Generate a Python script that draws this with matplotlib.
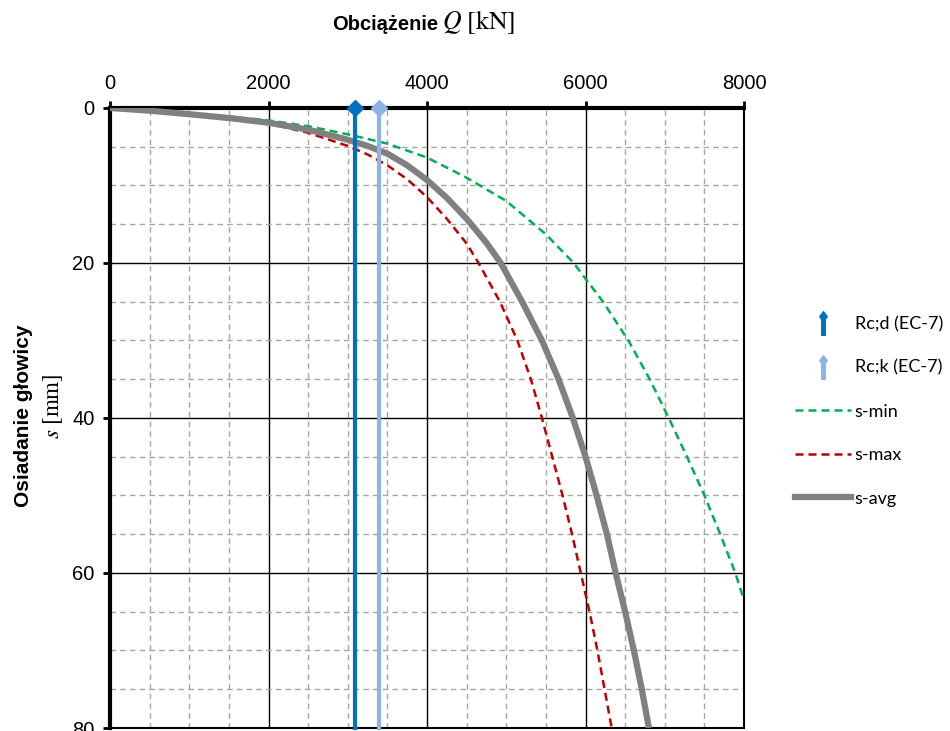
import matplotlib
matplotlib.use("Agg")
import matplotlib.pyplot as plt
from matplotlib.path import Path
from matplotlib.lines import Line2D
from matplotlib.ticker import MultipleLocator

plt.rcParams['font.family'] = ['Liberation Sans', 'DejaVu Sans']
plt.rcParams['mathtext.fontset'] = 'stix'

# obciazenie Q [kN] -> osiadanie s [mm]
q_min = [0, 500, 1000, 1500, 2000, 2500, 3000, 3500, 4000, 4500, 5000, 5500, 5850,
         6220, 6540, 6810, 7050, 7280, 7500, 7700, 7890, 8000]
s_min = [0, 0.3, 0.7, 1.1, 1.6, 2.35, 3.4, 4.6, 6.4, 9.0, 12.0, 16.3, 20,
         25, 30, 35, 40, 45, 50, 55, 60, 63.5]

q_max = [0, 500, 1000, 1500, 2000, 2500, 3000, 3250, 3500, 3750, 4000, 4250, 4500, 4650,
         4920, 5140, 5310, 5450, 5580, 5710, 5830, 5940, 6050, 6150, 6240, 6330]
s_max = [0, 0.3, 0.7, 1.2, 2.0, 3.2, 4.9, 6.0, 7.4, 9.2, 11.5, 14.3, 17.5, 20,
         25, 30, 35, 40, 45, 50, 55, 60, 65, 70, 75, 80]

q_avg = [0, 500, 1000, 1500, 2000, 2500, 3000, 3250, 3500, 3750, 4000, 4250, 4500, 4750,
         4930, 5200, 5450, 5660, 5840, 6000, 6140, 6270, 6380, 6500, 6610, 6710, 6800]
s_avg = [0, 0.35, 0.8, 1.3, 1.9, 2.8, 4.1, 4.9, 5.9, 7.4, 9.3, 11.6, 14.3, 17.4,
         20, 25, 30, 35, 40, 45, 50, 55, 60, 65, 70, 75, 80]

rc_d = 3085
rc_k = 3400
s_range = [0, 80]

fig = plt.figure(figsize=(9.5, 7.31), dpi=100)
ax = fig.add_axes([0.1158, 0.0041, 0.6674, 0.8482])

ax.plot(q_min, s_min, color='#00b050', lw=1.8, ls=(0, (3.2, 2)), zorder=3)
ax.plot(q_max, s_max, color='#c00000', lw=1.8, ls=(0, (3.2, 2)), zorder=3)
ax.plot(q_avg, s_avg, color='#808080', lw=4.5, zorder=4, solid_capstyle='butt',
        solid_joinstyle='round')
ax.plot([rc_d, rc_d], s_range, color='#0070c0', lw=3, marker='D', ms=8,
        markevery=[0], clip_on=False, zorder=6)
ax.plot([rc_k, rc_k], s_range, color='#8db4e2', lw=3, marker='D', ms=8,
        markevery=[0], clip_on=False, zorder=6)

ax.set_xlim(0, 8000)
ax.set_ylim(80, 0)
ax.xaxis.tick_top()
ax.xaxis.set_major_locator(MultipleLocator(2000))
ax.xaxis.set_minor_locator(MultipleLocator(500))
ax.yaxis.set_major_locator(MultipleLocator(20))
ax.yaxis.set_minor_locator(MultipleLocator(5))
ax.grid(which='major', color='black', lw=1.0)
ax.grid(which='minor', color='#a6a6a6', lw=1.0, ls=(0, (4, 3)))
ax.set_axisbelow(True)
ax.tick_params(which='minor', length=0)
ax.tick_params(which='major', length=5, width=2, direction='out', labelsize=14.5, pad=6)

ax.spines['top'].set_linewidth(3)
ax.spines['left'].set_linewidth(3)
ax.spines['right'].set_linewidth(1.5)
ax.spines['bottom'].set_linewidth(1.5)

fig.text(438 / 950, 1 - 24 / 731, "Obciążenie", ha='right', va='center',
         weight='bold', size=14.5)
fig.text(442 / 950, 1 - 22 / 731, r"$Q\ [\mathrm{kN}]$", ha='left', va='center', size=18.5)
fig.text(24 / 950, 1 - 416 / 731, "Osiadanie głowicy", rotation=90, ha='center',
         va='center', weight='bold', size=15)
fig.text(53 / 950, 1 - 406 / 731, r"$s\ [\mathrm{mm}]$", rotation=90, ha='center',
         va='center', size=16.5)

# strzalka do legendy: trzonek + romb
arrow = Path([(-0.15, -1), (-0.15, 0.35), (-0.32, 0.58), (0, 1), (0.32, 0.58),
              (0.15, 0.35), (0.15, -1), (-0.15, -1)],
             [Path.MOVETO] + [Path.LINETO] * 6 + [Path.CLOSEPOLY])

handles = [
    Line2D([], [], ls='none', marker=arrow, ms=17, color='#0070c0'),
    Line2D([], [], ls='none', marker=arrow, ms=17, color='#8db4e2'),
    Line2D([], [], color='#00b050', lw=1.8, ls=(0, (3.2, 2))),
    Line2D([], [], color='#c00000', lw=1.8, ls=(0, (3.2, 2))),
    Line2D([], [], color='#808080', lw=4.5),
]
labels = ["Rc;d (EC-7)", "Rc;k (EC-7)", "s-min", "s-max", "s-avg"]
fig.legend(handles, labels, loc='upper left', bbox_to_anchor=(795 / 950, 1 - 316 / 731),
           frameon=False, prop={'family': 'Lato', 'size': 13}, handlelength=3.1,
           handletextpad=0.2, labelspacing=1.53, borderpad=0, borderaxespad=0)

fig.savefig("out.png", dpi=100)
